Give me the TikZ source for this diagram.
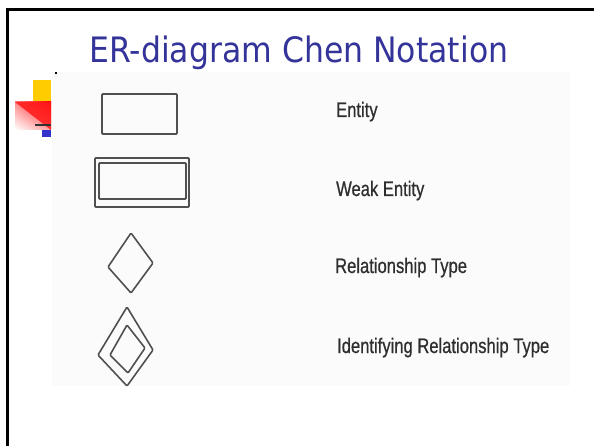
\documentclass[tikz,border=0pt]{standalone}
\usepackage{fontspec}
\usetikzlibrary{shadings}
\setmainfont{Liberation Sans}
\newfontfamily\labelfont[FakeBold=0.7]{Liberation Sans}
\newfontfamily\titlefont{DejaVu Sans}
\definecolor{titleblue}{HTML}{333399}
\definecolor{shapegray}{HTML}{505050}
\definecolor{labelgray}{HTML}{2E2E2E}
\definecolor{bulyellow}{HTML}{FFCC00}
\definecolor{bulblue}{HTML}{3333CC}
\begin{document}
\begin{tikzpicture}[x=1pt,y=-1pt,
  shapeline/.style={draw=shapegray, line width=1.8pt, rounded corners=1pt},
  legendlabel/.style={anchor=base west, inner sep=0pt, text=labelgray, font=\labelfont\fontsize{21}{21}\selectfont, xscale=0.79}]
\useasboundingbox (0,0) rectangle (594,446);
% faint picture background
\fill[black!1.5] (52,72) rectangle (570,386);
% slide frame
\draw[line width=3pt] (7.5,450) -- (7.5,10) -- (600,10);
% title
\node[anchor=base west, inner sep=0pt, text=titleblue, xscale=0.9,
  font=\titlefont\fontsize{35}{35}\selectfont] (title) at (89,63) {ER-diagram Chen Notation};
% bullet
\fill[bulyellow] (33,80) rectangle (51,102);
\shade[upper left=red!45, upper right=red, lower left=white, lower right=red!35] (15,102) rectangle (51,130);
\fill[red!90!white, opacity=0.85] (15,102) -- (51,102) -- (51,130) -- cycle;
\draw[line width=1.5pt, black!80] (35,125) -- (51,125);
\fill[bulblue] (42,130) rectangle (51,137);
\fill[black] (55,72) rectangle (57,74);
% entity
\node[shapeline, minimum width=75pt, minimum height=40pt, inner sep=0pt] (entity) at (139.5,114) {};
% weak entity
\node[shapeline, minimum width=94pt, minimum height=49pt, inner sep=0pt] (weakout) at (142,182.5) {};
\node[shapeline, minimum width=87pt, minimum height=36pt, inner sep=0pt] (weakin) at (142.5,181) {};
% relationship
\draw[shapeline, line width=1.6pt] (131,233) -- (153,263) -- (131,293) -- (108,267) -- cycle;
% identifying relationship
\draw[shapeline, line width=1.6pt] (127,307) -- (153,350) -- (127,386) -- (98,355) -- cycle;
\draw[shapeline, line width=1.6pt] (127,325) -- (145,348) -- (128,373) -- (110,355) -- cycle;
% labels
\node[legendlabel] (lentity) at (336,117) {Entity};
\node[legendlabel] (lweak) at (336,196) {Weak Entity};
\node[legendlabel] (lrel) at (335,273) {Relationship Type};
\node[legendlabel] (lident) at (337,353) {Identifying Relationship Type};
\end{tikzpicture}
\end{document}
